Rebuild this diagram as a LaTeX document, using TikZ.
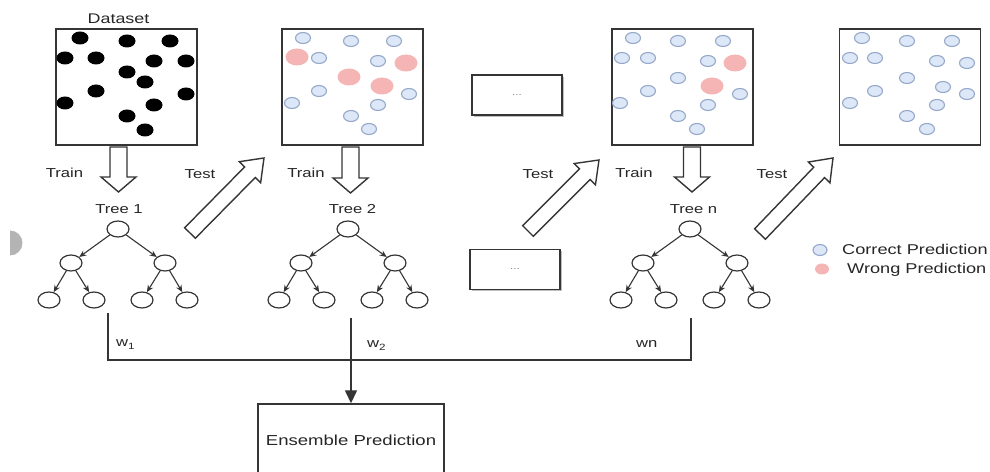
\documentclass[tikz,border=0pt]{standalone}
\usepackage{fontspec}
\setmainfont{Liberation Sans}[FakeStretch=1.28]
\usetikzlibrary{shapes.geometric,arrows.meta,calc,shadows}

\definecolor{ink}{HTML}{262626}
\definecolor{edge}{HTML}{353535}
\definecolor{okfill}{HTML}{DCE7F7}
\definecolor{okline}{HTML}{95A8CA}
\definecolor{badfill}{HTML}{F5B5B5}
\definecolor{capgray}{HTML}{B4B4B4}

\tikzset{
  lbl/.style={text=ink, inner sep=0pt, anchor=base, font=\fontsize{13bp}{15bp}\selectfont},
  panel/.style={draw=edge, line width=1.5bp, minimum width=141bp, minimum height=116bp, inner sep=0pt},
  gapbox/.style={draw=edge, line width=1.3bp, fill=white, minimum width=90bp, minimum height=40bp,
    inner sep=0pt, text=gray, font=\fontsize{9bp}{10bp}\selectfont,
    drop shadow={shadow xshift=2bp, shadow yshift=-2bp, fill=black!50}},
  hollow/.style={draw=edge, fill=white, line width=1.4bp, line join=miter},
  tnode/.style={ellipse, draw=edge, line width=1.2bp, minimum width=22bp, minimum height=16bp, inner sep=0pt},
  tedge/.style={draw=edge, line width=1.1bp, -{Stealth[length=7bp,width=6bp]}},
  flow/.style={draw=edge, line width=1.4bp},
  ebox/.style={draw=edge, line width=1.4bp, minimum width=186bp, minimum height=72bp, inner sep=0pt,
    text=ink, font=\fontsize{14.5bp}{17bp}\selectfont},
  okdot/.style={fill=okfill, draw=okline, line width=1.1bp},
  baddot/.style={fill=badfill},
  okmark/.style={ellipse, fill=okfill, draw=okline, line width=1.1bp, minimum width=14bp, minimum height=11bp, inner sep=0pt},
  badmark/.style={ellipse, fill=badfill, minimum width=14bp, minimum height=11bp, inner sep=0pt},
}

% hollow block arrow: tail, tip, half shaft width, half head width, head length
\newcommand{\hollowarrow}[5]{%
  \coordinate (habase) at ($(#2)!#5!(#1)$);
  \draw[hollow] ($(#1)!#3!90:(#2)$) -- ($(habase)!#3!90:(#2)$) -- ($(habase)!#4!90:(#2)$)
    -- (#2) -- ($(habase)!#4!-90:(#2)$) -- ($(habase)!#3!-90:(#2)$) -- ($(#1)!#3!-90:(#2)$) -- cycle;}

% binary decision tree: name prefix, x of the root
\newcommand{\dtree}[2]{%
  \node[tnode] (#1r) at (#2,229) {};
  \node[tnode] (#1a) at ({#2-47},263) {};
  \node[tnode] (#1b) at ({#2+47},263) {};
  \node[tnode] (#1c) at ({#2-69},300) {};
  \node[tnode] (#1d) at ({#2-24},300) {};
  \node[tnode] (#1e) at ({#2+24},300) {};
  \node[tnode] (#1f) at ({#2+69},300) {};
  \draw[tedge] (#1r) -- (#1a);
  \draw[tedge] (#1r) -- (#1b);
  \draw[tedge] (#1a) -- (#1c);
  \draw[tedge] (#1a) -- (#1d);
  \draw[tedge] (#1b) -- (#1e);
  \draw[tedge] (#1b) -- (#1f);}

\begin{document}
\begin{tikzpicture}[x=1bp, y=-1bp]
\useasboundingbox (0,0) rectangle (990,472);

% half disk at the left edge
\fill[capgray] (10,230.5) arc[start angle=90, end angle=-90, radius=12.5bp] -- cycle;

% data panels
\node[panel] (p0) at (126.5,87) {};
\node[panel] (p1) at (352.5,87) {};
\node[panel] (p2) at (682.5,87) {};
\node[panel] (p3) at (910,87) {};
\node[lbl, font=\fontsize{14bp}{16bp}\selectfont] (dslbl) at (118.5,24) {Dataset};

% raw data points
\begin{scope}[shift={(56,29)}]
  \foreach \a/\b in {24/9,71/12,114/12,9/29,40/29,98/32,130/32,71/43,89/53,40/62,130/65,9/74,98/76,71/87,89/101}
    \fill[black] (\a,\b) ellipse[x radius=8.5bp, y radius=6.5bp];
\end{scope}
% after tree 1
\begin{scope}[shift={(282,29)}]
  \foreach \a/\b in {21/9,69/12,112/12,37/29,96/32,37/62,127/65,10/74,96/76,69/87,87/100}
    \filldraw[okdot] (\a,\b) ellipse[x radius=7.5bp, y radius=5.5bp];
  \foreach \a/\b in {15/28,124/34,67/48,100/57}
    \fill[baddot] (\a,\b) ellipse[x radius=11.5bp, y radius=8.5bp];
\end{scope}
% after tree n-1
\begin{scope}[shift={(612,29)}]
  \foreach \a/\b in {21/9,66/12,111/12,10/29,36/29,96/32,66/49,36/62,128/65,8/74,96/76,66/87,85/100}
    \filldraw[okdot] (\a,\b) ellipse[x radius=7.5bp, y radius=5.5bp];
  \foreach \a/\b in {123/34,100/57}
    \fill[baddot] (\a,\b) ellipse[x radius=11.5bp, y radius=8.5bp];
\end{scope}
% after tree n
\begin{scope}[shift={(839,29)}]
  \foreach \a/\b in {23/9,68/12,113/12,11/29,36/29,98/32,128/34,68/49,104/58,36/62,128/65,11/74,98/76,68/87,88/100}
    \filldraw[okdot] (\a,\b) ellipse[x radius=7.5bp, y radius=5.5bp];
\end{scope}

% elided middle stages
\node[gapbox] (g1) at (517,95) {...};
\node[gapbox] (g2) at (515,269.5) {...};

% train arrows
\coordinate (tr0a) at (118.5,147); \coordinate (tr0b) at (118.5,192);
\coordinate (tr1a) at (350.5,147); \coordinate (tr1b) at (350.5,193);
\coordinate (tr2a) at (692,147);   \coordinate (tr2b) at (692,192);
\hollowarrow{tr0a}{tr0b}{8.5bp}{17.5bp}{15bp}
\hollowarrow{tr1a}{tr1b}{8.5bp}{17.5bp}{15bp}
\hollowarrow{tr2a}{tr2b}{8.5bp}{17.5bp}{15bp}

% test arrows
\coordinate (ts0a) at (190,233); \coordinate (ts0b) at (264,158);
\coordinate (ts1a) at (528,231); \coordinate (ts1b) at (599,160);
\coordinate (ts2a) at (760,234); \coordinate (ts2b) at (833,158);
\hollowarrow{ts0a}{ts0b}{7.5bp}{15bp}{20bp}
\hollowarrow{ts1a}{ts1b}{7.5bp}{15bp}{20bp}
\hollowarrow{ts2a}{ts2b}{7.5bp}{15bp}{20bp}

% labels
\node[lbl] (trn0) at (64.5,178) {Train};
\node[lbl] (trn1) at (306,178) {Train};
\node[lbl] (trn2) at (634,178) {Train};
\node[lbl] (tst0) at (200,179) {Test};
\node[lbl] (tst1) at (538,179) {Test};
\node[lbl] (tst2) at (772,179) {Test};
\node[lbl] (tl1) at (119,214) {Tree 1};
\node[lbl] (tl2) at (352.5,214) {Tree 2};
\node[lbl] (tln) at (693.5,214) {Tree n};

% trees
\dtree{ta}{118}
\dtree{tb}{348}
\dtree{tc}{690}

% legend
\node[okmark] (lg1) at (820,250) {};
\node[badmark] (lg2) at (822,269) {};
\node[lbl, anchor=base west, font=\fontsize{14.2bp}{16bp}\selectfont] (lgt1) at (842,255) {Correct Prediction};
\node[lbl, anchor=base west, font=\fontsize{14.2bp}{16bp}\selectfont] (lgt2) at (847,274) {Wrong Prediction};

% weighted combination
\node[ebox] (ens) at (351,440) {Ensemble Prediction};
\coordinate (wl) at (108,313);
\coordinate (wm) at (351,318);
\coordinate (wr) at (691,318);
\coordinate (wrb) at (691,360);
\draw[flow] (wl) |- (wrb) -- (wr);
\draw[flow, -{Triangle[length=13bp,width=12bp]}] (wm) -- (ens.north);
\node[lbl, anchor=base west] (w1) at (116,347) {w\textsubscript{1}};
\node[lbl, anchor=base west] (w2) at (367,348) {w\textsubscript{2}};
\node[lbl, anchor=base west] (wn) at (636,348) {wn};
\end{tikzpicture}
\end{document}
